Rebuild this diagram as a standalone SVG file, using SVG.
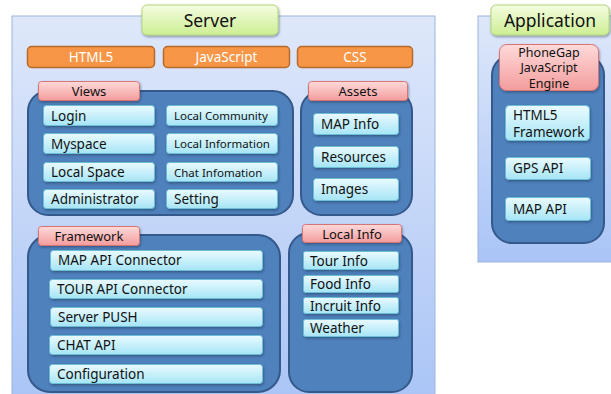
<svg xmlns="http://www.w3.org/2000/svg" width="611" height="394" viewBox="0 0 611 394">
  <defs>
    <linearGradient id="gPanel" x1="0" y1="0" x2="0" y2="1">
      <stop offset="0" stop-color="#dfe8fa"/>
      <stop offset="1" stop-color="#a9c4f6"/>
    </linearGradient>
    <linearGradient id="gTitle" x1="0" y1="0" x2="0" y2="1">
      <stop offset="0" stop-color="#f4fde0"/>
      <stop offset="1" stop-color="#cdee94"/>
    </linearGradient>
    <linearGradient id="gLabel" x1="0" y1="0" x2="0" y2="1">
      <stop offset="0" stop-color="#ffdada"/>
      <stop offset="1" stop-color="#f39c9c"/>
    </linearGradient>
    <linearGradient id="gItem" x1="0" y1="0" x2="0" y2="1">
      <stop offset="0" stop-color="#eafaff"/>
      <stop offset="1" stop-color="#a6e5f6"/>
    </linearGradient>
    <filter id="shadow" x="-10%" y="-20%" width="120%" height="150%">
      <feDropShadow dx="0.8" dy="1.5" stdDeviation="0.9" flood-color="#1a2a44" flood-opacity="0.45"/>
    </filter>
  </defs>
  <style>
    .panel { fill: url(#gPanel); stroke: #9cb4dc; stroke-width: 1; }
    .title { fill: url(#gTitle); stroke: #b5d77a; stroke-width: 1; filter: url(#shadow); }
    .tech { fill: #f79646; stroke: #b66a2c; stroke-width: 1.5; }
    .group { fill: #4f81bd; stroke: #35598a; stroke-width: 2; }
    .label { fill: url(#gLabel); stroke: #d77474; stroke-width: 1; filter: url(#shadow); }
    .item { fill: url(#gItem); stroke: #6bbfd6; stroke-width: 1; filter: url(#shadow); }
    text { font-family: "Noto Sans", "Open Sans", "DejaVu Sans", sans-serif; fill: #111; }
    .tt { font-size: 17.5px; text-anchor: middle; }
    .tw { font-size: 13.5px; fill: #ffffff; text-anchor: middle; }
    .tl { font-size: 13px; text-anchor: middle; }
    .tm { font-size: 12.5px; text-anchor: middle; }
    .ti { font-size: 13.5px; }
    .ts { font-size: 11.5px; }
  </style>

  <!-- Server -->
  <g id="server">
    <rect class="panel" x="12" y="16" width="423" height="390"/>
    <rect class="title" x="142" y="5" width="136" height="30" rx="5"/>
    <text class="tt" x="210" y="26.5">Server</text>
  </g>

  <g id="tech">
    <rect class="tech" x="27.5" y="46.5" width="127" height="21" rx="4"/>
    <text class="tw" x="91" y="62">HTML5</text>
    <rect class="tech" x="163.5" y="46.5" width="126" height="21" rx="4"/>
    <text class="tw" x="226.5" y="62">JavaScript</text>
    <rect class="tech" x="297.5" y="46.5" width="115" height="21" rx="4"/>
    <text class="tw" x="355" y="62">CSS</text>
  </g>

  <!-- Views -->
  <g id="views">
    <rect class="group" x="28" y="91" width="265" height="124" rx="20"/>
    <rect class="label" x="38.5" y="81.5" width="101" height="19" rx="3"/>
    <text class="tl" x="89" y="96">Views</text>
    <rect class="item" x="43.5" y="105.5" width="111" height="20" rx="3"/>
    <text class="ti" x="51" y="120.5">Login</text>
    <rect class="item" x="166.5" y="105.5" width="111" height="20" rx="3"/>
    <text class="ts" x="174" y="120">Local Community</text>
    <rect class="item" x="43.5" y="133.5" width="111" height="20" rx="3"/>
    <text class="ti" x="51" y="148.5">Myspace</text>
    <rect class="item" x="166.5" y="133.5" width="111" height="20" rx="3"/>
    <text class="ts" x="174" y="148">Local Information</text>
    <rect class="item" x="43.5" y="162.5" width="111" height="19" rx="3"/>
    <text class="ti" x="51" y="177">Local Space</text>
    <rect class="item" x="166.5" y="162.5" width="111" height="19" rx="3"/>
    <text class="ts" x="174" y="176.5">Chat Infomation</text>
    <rect class="item" x="43.5" y="189.5" width="111" height="19" rx="3"/>
    <text class="ti" x="51" y="204">Administrator</text>
    <rect class="item" x="166.5" y="189.5" width="111" height="19" rx="3"/>
    <text class="ti" x="174" y="204">Setting</text>
  </g>

  <!-- Assets -->
  <g id="assets">
    <rect class="group" x="301" y="91" width="111" height="124" rx="20"/>
    <rect class="label" x="308.5" y="81.5" width="99" height="19" rx="3"/>
    <text class="tl" x="358" y="96">Assets</text>
    <rect class="item" x="313.5" y="113.5" width="85" height="21" rx="3"/>
    <text class="ti" x="321" y="129">MAP Info</text>
    <rect class="item" x="313.5" y="146.5" width="85" height="21" rx="3"/>
    <text class="ti" x="321" y="162">Resources</text>
    <rect class="item" x="313.5" y="178.5" width="85" height="22" rx="3"/>
    <text class="ti" x="321" y="194">Images</text>
  </g>

  <!-- Framework -->
  <g id="framework">
    <rect class="group" x="28" y="235" width="252" height="157" rx="22"/>
    <rect class="label" x="38.5" y="226.5" width="101" height="19" rx="3"/>
    <text class="tl" x="89" y="241">Framework</text>
    <rect class="item" x="50.5" y="250.5" width="212" height="20" rx="3"/>
    <text class="ti" x="58" y="265">MAP API Connector</text>
    <rect class="item" x="49.5" y="279.5" width="213" height="19" rx="3"/>
    <text class="ti" x="57" y="294">TOUR API Connector</text>
    <rect class="item" x="50.5" y="307.5" width="212" height="19" rx="3"/>
    <text class="ti" x="58" y="322">Server PUSH</text>
    <rect class="item" x="49.5" y="335.5" width="213" height="19" rx="3"/>
    <text class="ti" x="57" y="350">CHAT API</text>
    <rect class="item" x="49.5" y="364.5" width="213" height="19" rx="3"/>
    <text class="ti" x="57" y="379">Configuration</text>
  </g>

  <!-- Local Info -->
  <g id="local-info">
    <rect class="group" x="289" y="233" width="123" height="159" rx="20"/>
    <rect class="label" x="302.5" y="224.5" width="99" height="18" rx="3"/>
    <text class="tl" x="352" y="238.5">Local Info</text>
    <rect class="item" x="303.5" y="251.5" width="95" height="18" rx="2"/>
    <text class="ti" x="310" y="265.5">Tour Info</text>
    <rect class="item" x="303.5" y="275.5" width="95" height="17" rx="2"/>
    <text class="ti" x="310" y="289">Food Info</text>
    <rect class="item" x="303.5" y="297.5" width="95" height="16" rx="2"/>
    <text class="ti" x="310" y="310.5">Incruit Info</text>
    <rect class="item" x="303.5" y="319.5" width="95" height="17" rx="2"/>
    <text class="ti" x="310" y="333">Weather</text>
  </g>

  <!-- Application -->
  <g id="application">
    <rect class="panel" x="478" y="16" width="140" height="246"/>
    <rect class="title" x="491" y="5" width="118" height="30" rx="5"/>
    <text class="tt" x="550" y="26.5">Application</text>
  </g>

  <g id="phonegap">
    <rect class="group" x="492" y="55" width="112" height="188" rx="20"/>
    <rect class="label" x="499.5" y="44.5" width="99" height="46" rx="7"/>
    <text class="tm" x="549" y="56.5">PhoneGap</text>
    <text class="tm" x="549" y="72">JavaScript</text>
    <text class="tm" x="549" y="87.5">Engine</text>
    <rect class="item" x="505.5" y="105.5" width="84" height="35" rx="4"/>
    <text class="ti" x="513" y="120">HTML5</text>
    <text class="ti" x="513" y="137">Framework</text>
    <rect class="item" x="505.5" y="157.5" width="85" height="22" rx="3"/>
    <text class="ti" x="513" y="173">GPS API</text>
    <rect class="item" x="505.5" y="197.5" width="85" height="23" rx="3"/>
    <text class="ti" x="513" y="213.5">MAP API</text>
  </g>

  <!-- no connectors in this diagram -->
  <g id="connectors"/>
</svg>
